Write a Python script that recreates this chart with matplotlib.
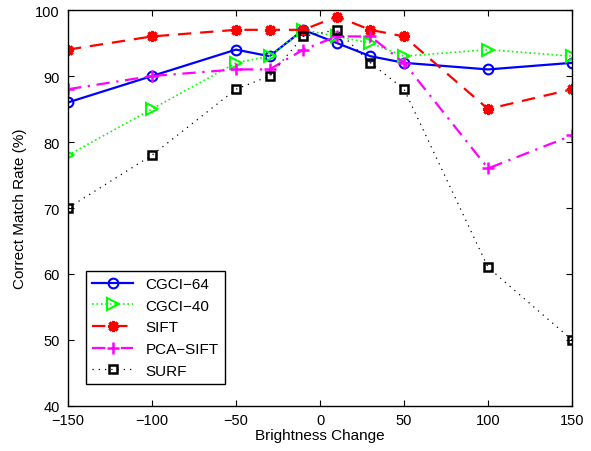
import matplotlib
matplotlib.use("Agg")
import matplotlib.pyplot as plt

plt.rcParams['font.family'] = ['Liberation Sans', 'DejaVu Sans']

# brightness changes on the x axis
brightness = [-150, -100, -50, -30, -10, 10, 30, 50, 100, 150]

# correct match rate (%) per method
cgci_64 = [86, 90, 94, 93, 97, 95, 93, 92, 91, 92]
cgci_40 = [78, 85, 92, 93, 97, 96, 95, 93, 94, 93]
sift = [94, 96, 97, 97, 97, 99, 97, 96, 85, 88]
pca_sift = [88, 90, 91, 91, 94, 96, 96, 92, 76, 81]
surf = [70, 78, 88, 90, 96, 97, 92, 88, 61, 50]

fig = plt.figure(figsize=(5.91, 4.52), dpi=100)
ax = fig.add_axes([0.115, 0.0996, 0.853, 0.876])

ax.plot(brightness, cgci_64, color='#0000ff', linestyle='-', linewidth=1.6,
        marker='o', markersize=7, markerfacecolor='none', markeredgewidth=1.5, label='CGCI\u221264')
ax.plot(brightness, cgci_40, color='#00ff00', linestyle=':', linewidth=1.2,
        marker='>', markersize=8, markerfacecolor='none', markeredgewidth=1.5, label='CGCI\u221240')
ax.plot(brightness, sift, color='#ff0000', linestyle=(0, (6, 4)), linewidth=1.6,
        marker=(8, 2, 0), markersize=8, markeredgewidth=2.2, label='SIFT')
ax.plot(brightness, pca_sift, color='#ff00ff', linestyle=(0, (6, 3, 1, 3)), linewidth=1.6,
        marker='+', markersize=9, markeredgewidth=1.8, label='PCA\u2212SIFT')
ax.plot(brightness, surf, color='black', linestyle=(0, (1, 4)), linewidth=0.9,
        marker='s', markersize=6, markerfacecolor='none', markeredgewidth=1.8, label='SURF')

ax.set_xlim(-150, 150)
ax.set_ylim(40, 100)
ax.set_xticks([-150, -100, -50, 0, 50, 100, 150])
ax.set_xticklabels(['\u2212150', '\u2212100', '\u221250', '0', '50', '100', '150'])
ax.set_yticks([40, 50, 60, 70, 80, 90, 100])
ax.tick_params(direction='in', top=True, right=True, labelsize=10.5, length=4)
ax.tick_params(axis='y', pad=6)
ax.tick_params(axis='x', pad=5)
for spine in ax.spines.values():
    spine.set_linewidth(1.0)

ax.set_xlabel('Brightness Change', fontsize=11, labelpad=1)
ax.set_ylabel('Correct Match Rate (%)', fontsize=11, labelpad=6)

leg = ax.legend(loc='lower left', bbox_to_anchor=(0.036, 0.056), borderaxespad=0,
                fontsize=11, frameon=True, fancybox=False, edgecolor='black',
                framealpha=1, handlelength=2.7, borderpad=0.4, labelspacing=0.5)
leg.get_frame().set_linewidth(1.0)

fig.savefig('out.png', dpi=100)
